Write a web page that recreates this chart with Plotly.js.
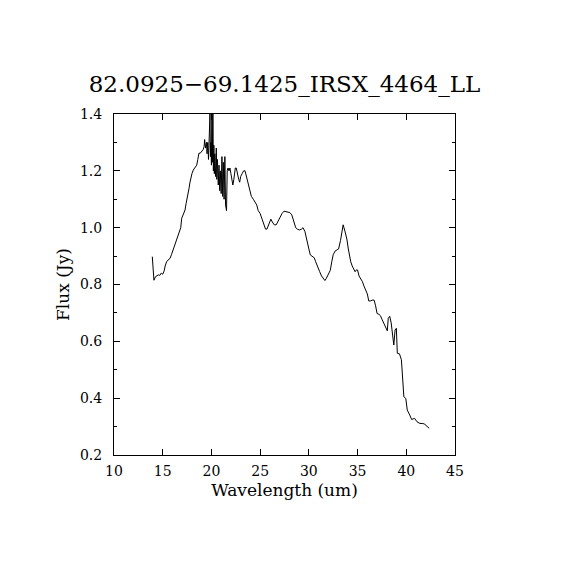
<!DOCTYPE html>
<html>
<head>
<meta charset="utf-8">
<script src="https://cdn.plot.ly/plotly-3.0.1.min.js"></script>
<style>html,body{margin:0;padding:0;background:#fff;}#chart{width:570px;height:570px;}</style>
</head>
<body>
<div id="chart"></div>
<script>
const chartTitle = "82.0925\u221269.1425_IRSX_4464_LL";
const xLabel = "Wavelength (um)";
const yLabel = "Flux (Jy)";

const wavelength = [
 13.93,14.05,14.10,14.25,14.40,14.55,14.70,14.85,15.00,15.15,15.25,15.40,15.55,15.75,15.90,16.00,16.15,16.30,16.45,16.60,
 16.75,16.85,16.95,17.10,17.29,17.40,17.52,17.62,17.70,17.80,17.90,18.00,18.14,18.30,18.49,18.60,18.72,18.85,19.00,19.15,
 19.25,19.30,19.40,19.50,19.55,19.62,19.70,19.78,19.85,19.90,19.95,20.00,20.05,20.10,20.15,20.20,20.25,20.30,20.35,20.42,
 20.50,20.55,20.62,20.70,20.78,20.85,20.92,21.00,21.08,21.15,21.22,21.30,21.38,21.45,21.55,21.62,21.70,21.80,21.90,22.00,
 22.10,22.20,22.30,22.45,22.55,22.65,22.80,22.90,23.00,23.15,23.30,23.45,23.60,23.75,23.90,24.10,24.30,24.50,24.65,24.80,
 25.00,25.20,25.40,25.55,25.70,25.90,26.10,26.25,26.45,26.65,26.85,27.05,27.25,27.45,27.65,27.85,28.05,28.25,28.45,28.65,
 28.85,29.05,29.25,29.40,29.60,29.80,30.00,30.15,30.35,30.55,30.70,30.90,31.10,31.30,31.50,31.65,31.80,32.00,32.20,32.35,
 32.50,32.70,32.90,33.05,33.25,33.40,33.52,33.70,33.90,34.05,34.15,34.30,34.45,34.60,34.75,34.90,35.00,35.15,35.30,35.50,
 35.65,35.80,36.00,36.15,36.30,36.50,36.70,36.85,37.00,37.20,37.35,37.50,37.70,37.90,38.05,38.15,38.30,38.45,38.60,38.72,
 38.85,38.98,39.08,39.30,39.50,39.62,39.75,39.95,40.10,40.35,40.55,40.85,41.10,41.40,41.70,41.90,42.15,42.35
];
const flux = [
 0.898,0.830,0.815,0.827,0.830,0.834,0.832,0.840,0.836,0.848,0.865,0.880,0.886,0.892,0.905,0.915,0.930,0.945,0.955,0.968,
 0.985,1.000,1.033,1.045,1.062,1.085,1.103,1.120,1.138,1.160,1.179,1.190,1.203,1.212,1.220,1.240,1.262,1.262,1.267,1.275,
 1.285,1.310,1.280,1.300,1.260,1.300,1.240,1.330,1.400,1.250,1.300,1.220,1.420,1.230,1.400,1.200,1.290,1.190,1.260,1.180,
 1.280,1.170,1.240,1.150,1.220,1.130,1.200,1.120,1.250,1.110,1.230,1.100,1.250,1.080,1.060,1.200,1.210,1.200,1.210,1.190,
 1.170,1.150,1.170,1.210,1.210,1.190,1.170,1.160,1.180,1.190,1.200,1.200,1.180,1.150,1.130,1.110,1.100,1.090,1.080,1.060,
 1.050,1.030,1.010,0.995,0.995,1.015,1.030,1.020,1.010,1.010,1.025,1.035,1.050,1.058,1.056,1.055,1.053,1.045,1.025,1.000,
 0.994,0.992,0.995,1.000,0.986,0.960,0.925,0.904,0.898,0.894,0.880,0.860,0.846,0.830,0.820,0.814,0.822,0.835,0.850,0.880,
 0.905,0.918,0.922,0.925,0.955,0.985,1.010,0.988,0.960,0.925,0.904,0.880,0.865,0.857,0.845,0.852,0.851,0.830,0.822,0.810,
 0.795,0.785,0.767,0.742,0.742,0.745,0.745,0.725,0.698,0.695,0.690,0.678,0.665,0.650,0.637,0.681,0.688,0.665,0.605,0.587,
 0.640,0.646,0.558,0.556,0.535,0.464,0.405,0.399,0.358,0.341,0.325,0.329,0.317,0.311,0.311,0.308,0.300,0.294
];

const fontFam = "DejaVu Serif, Liberation Serif, serif";

const trace = {
  x: wavelength, y: flux, type: "scatter", mode: "lines",
  line: {color: "#000", width: 1}, hoverinfo: "x+y", cliponaxis: true
};

const layout = {
  width: 570, height: 570,
  margin: {l: 114, r: 115, t: 114, b: 115, pad: 0},
  paper_bgcolor: "#fff", plot_bgcolor: "#fff",
  font: {family: fontFam, color: "#000", size: 14},
  showlegend: false,
  title: {text: chartTitle, font: {family: fontFam, size: 23, color: "#000"},
          x: 0.5, xref: "paper", xanchor: "center", y: 1 - 84/570, yref: "container", yanchor: "middle"},
  xaxis: {
    range: [10, 45], dtick: 5, tick0: 10, ticks: "inside", ticklen: 6, tickwidth: 1, tickcolor: "#000",
    ticklabelstandoff: 3,
    showline: true, linecolor: "#000", linewidth: 1, mirror: "ticks", showgrid: false, zeroline: false,
    tickfont: {family: fontFam, size: 14, color: "#000"},
    title: {text: xLabel, font: {family: fontFam, size: 17, color: "#000"}, standoff: 6},
    automargin: false
  },
  yaxis: {
    range: [0.2, 1.4], dtick: 0.2, tick0: 0.2, ticks: "inside", ticklen: 6, tickwidth: 1, tickcolor: "#000",
    tickformat: ".1f", ticklabelstandoff: 8,
    minor: {dtick: 0.1, ticks: "inside", ticklen: 3, tickcolor: "#000", showgrid: false},
    showline: true, linecolor: "#000", linewidth: 1, mirror: "ticks", showgrid: false, zeroline: false,
    tickfont: {family: fontFam, size: 14, color: "#000"},
    title: {text: yLabel, font: {family: fontFam, size: 17, color: "#000"}, standoff: 5},
    automargin: false
  }
};

Plotly.newPlot("chart", [trace], layout, {staticPlot: true, displayModeBar: false});
</script>
</body>
</html>
